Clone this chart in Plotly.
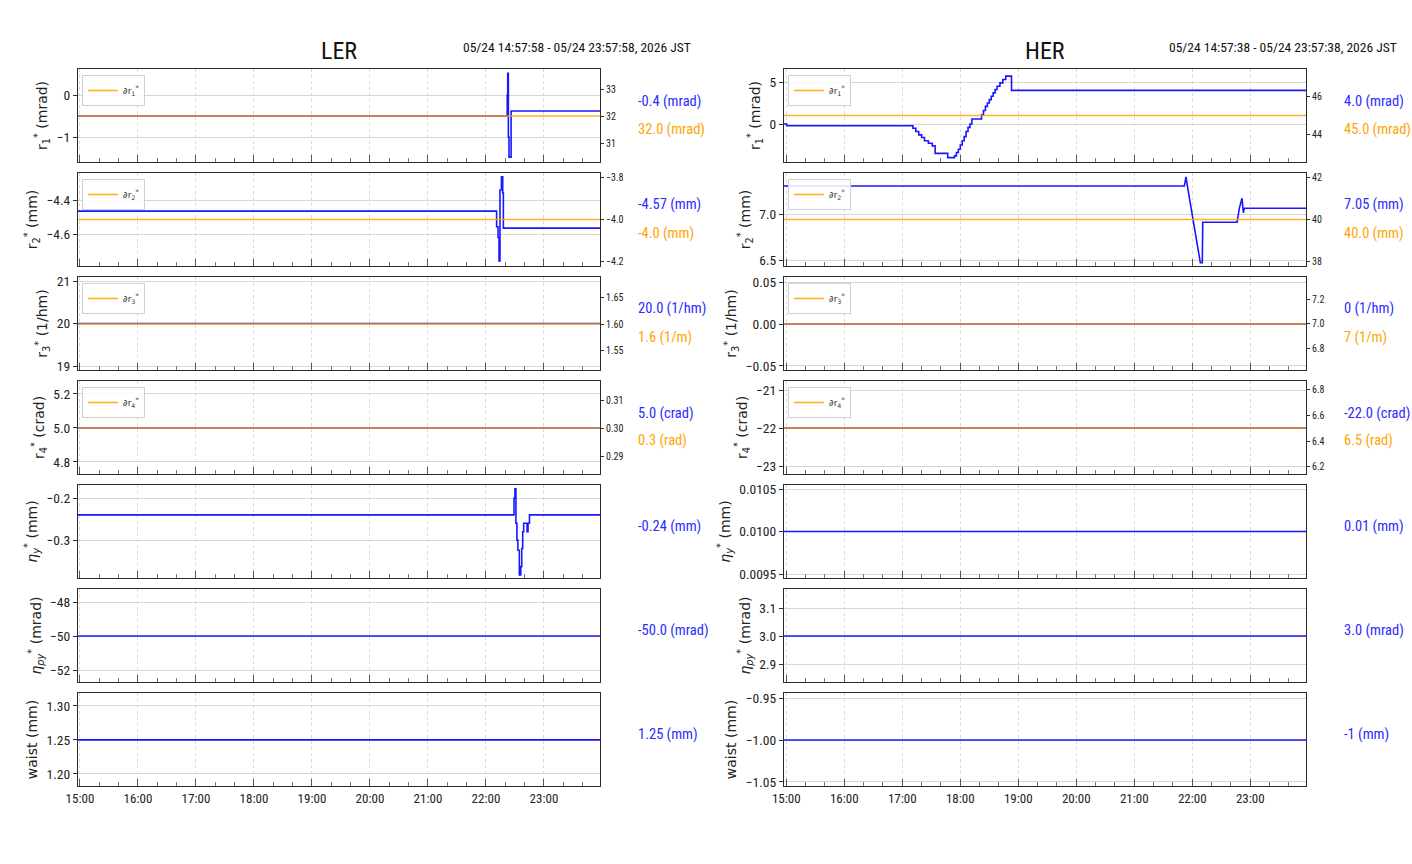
import plotly.graph_objects as go

W, H = 1412, 864
DAY = "2026-05-24 "

# ---------------- time windows ----------------
LER_START, LER_END = "14:57:58", "23:57:58"
HER_START, HER_END = "14:57:38", "23:57:38"

# ---------------- LER series ----------------
ler_r1_t = [LER_START, "22:22:00", "22:22:30", "22:23:10", "22:23:50", "22:26:00", LER_END]
ler_r1_v = [-0.5, 0.0, 0.52, -1.0, -1.48, -0.38, -0.38]
ler_dr1_t = [LER_START, LER_END]
ler_dr1_v = [32.0, 32.0]

ler_r2_t = [LER_START, "22:11:00", "22:12:30", "22:13:30", "22:14:30", "22:16:00", "22:17:20", "22:18:00", LER_END]
ler_r2_v = [-4.465, -4.557, -4.62, -4.759, -4.341, -4.263, -4.359, -4.565, -4.565]
ler_dr2_t = [LER_START, LER_END]
ler_dr2_v = [-4.0, -4.0]

ler_r3_t = [LER_START, LER_END]
ler_r3_v = [20.0, 20.0]
ler_dr3_t = [LER_START, LER_END]
ler_dr3_v = [1.6, 1.6]

ler_r4_t = [LER_START, LER_END]
ler_r4_v = [5.0, 5.0]
ler_dr4_t = [LER_START, LER_END]
ler_dr4_v = [0.3, 0.3]

ler_etay_t = [LER_START, "22:29:00", "22:30:00", "22:31:00", "22:32:00", "22:33:00", "22:34:30",
              "22:36:00", "22:37:00", "22:38:00", "22:39:00", "22:42:30", "22:43:30", "22:45:00", LER_END]
ler_etay_v = [-0.24, -0.200, -0.178, -0.26, -0.30, -0.324, -0.383,
              -0.363, -0.32, -0.28, -0.26, -0.28, -0.26, -0.24, -0.24]

ler_etapy_t = [LER_START, LER_END]
ler_etapy_v = [-50.0, -50.0]

ler_waist_t = [LER_START, LER_END]
ler_waist_v = [1.25, 1.25]

# ---------------- HER series ----------------
her_r1_t = [HER_START, "15:00:30", "17:08:00", "17:11:00", "17:14:00", "17:17:00", "17:20:00", "17:23:00",
            "17:27:00", "17:31:00", "17:34:00", "17:47:00", "17:52:30", "17:54:00", "17:56:00",
            "17:58:00", "18:00:00", "18:02:00", "18:04:00", "18:06:00", "18:08:00", "18:10:00",
            "18:12:00", "18:20:30", "18:22:00", "18:24:00", "18:26:00", "18:28:00", "18:30:00",
            "18:32:00", "18:34:00", "18:36:00", "18:38:00", "18:41:00", "18:44:00", "18:47:00",
            "18:53:00", HER_END]
her_r1_v = [0.0, -0.2, -0.2, -0.5, -0.9, -1.3, -1.6, -2.0,
            -2.3, -2.6, -3.5, -4.0, -4.0, -3.8, -3.4,
            -3.0, -2.5, -2.0, -1.5, -0.9, -0.4, 0.0,
            0.6, 0.6, 1.1, 1.6, 2.1, 2.5, 2.9,
            3.3, 3.7, 4.1, 4.5, 4.9, 5.3, 5.7,
            4.0, 4.0]
her_dr1_t = [HER_START, HER_END]
her_dr1_v = [45.0, 45.0]

her_r2_t = [HER_START, "21:51:45", "21:53:30", "21:55:00", "22:08:20", "22:10:20", "22:10:50",
            "22:46:20", "22:48:40", "22:51:25", "22:52:50", "22:53:50", HER_END]
her_r2_v = [7.304, 7.304, 7.405, 7.30, 6.47, 6.47, 6.91,
            6.91, 7.062, 7.171, 7.014, 7.062, 7.062]
her_dr2_t = [HER_START, HER_END]
her_dr2_v = [40.0, 40.0]

her_r3_t = [HER_START, HER_END]
her_r3_v = [0.0, 0.0]
her_dr3_t = [HER_START, HER_END]
her_dr3_v = [7.0, 7.0]

her_r4_t = [HER_START, HER_END]
her_r4_v = [-22.0, -22.0]
her_dr4_t = [HER_START, HER_END]
her_dr4_v = [6.5, 6.5]

her_etay_t = [HER_START, HER_END]
her_etay_v = [0.01, 0.01]

her_etapy_t = [HER_START, HER_END]
her_etapy_v = [3.0, 3.0]

her_waist_t = [HER_START, HER_END]
her_waist_v = [-1.0, -1.0]

# ---------------- labels / ticks ----------------
row_titles = ["r<sub>1</sub><sup>*</sup> (mrad)", "r<sub>2</sub><sup>*</sup> (mm)",
              "r<sub>3</sub><sup>*</sup> (1/hm)", "r<sub>4</sub><sup>*</sup> (crad)",
              "<i>η</i><sub><i>y</i></sub><sup>*</sup> (mm)",
              "<i>η</i><sub><i>py</i></sub><sup>*</sup> (mrad)", "waist (mm)"]
legend_names = ["∂r<sub>1</sub><sup>*</sup>", "∂r<sub>2</sub><sup>*</sup>",
                "∂r<sub>3</sub><sup>*</sup>", "∂r<sub>4</sub><sup>*</sup>"]

ler_blue_text = ["-0.4 (mrad)", "-4.57 (mm)", "20.0 (1/hm)", "5.0 (crad)", "-0.24 (mm)", "-50.0 (mrad)", "1.25 (mm)"]
ler_orange_text = ["32.0 (mrad)", "-4.0 (mm)", "1.6 (1/m)", "0.3 (rad)"]
her_blue_text = ["4.0 (mrad)", "7.05 (mm)", "0 (1/hm)", "-22.0 (crad)", "0.01 (mm)", "3.0 (mrad)", "-1 (mm)"]
her_orange_text = ["45.0 (mrad)", "40.0 (mm)", "7 (1/m)", "6.5 (rad)"]

ler_left_ticks = [[0, -1], [-4.4, -4.6], [19, 20, 21], [4.8, 5.0, 5.2], [-0.2, -0.3], [-48, -50, -52], [1.20, 1.25, 1.30]]
ler_left_text = [["0", "−1"], ["−4.4", "−4.6"], ["19", "20", "21"], ["4.8", "5.0", "5.2"], ["−0.2", "−0.3"],
                 ["−48", "−50", "−52"], ["1.20", "1.25", "1.30"]]
ler_left_range = [[-1.595, 0.62], [-4.788, -4.241], [18.906, 21.094], [4.729, 5.276], [-0.390, -0.169],
                  [-52.706, -47.235], [1.182, 1.319]]
ler_right_ticks = [[31, 32, 33], [-4.2, -4.0, -3.8], [1.55, 1.60, 1.65], [0.29, 0.30, 0.31]]
ler_right_text = [["31", "32", "33"], ["−4.2", "−4.0", "−3.8"], ["1.55", "1.60", "1.65"], ["0.29", "0.30", "0.31"]]
ler_right_range = [[30.30, 33.74], [-4.219, -3.781], [1.514, 1.688], [0.2836, 0.3168]]

her_left_ticks = [[0, 5], [6.5, 7.0], [-0.05, 0.0, 0.05], [-23, -22, -21], [0.0095, 0.0100, 0.0105],
                  [2.9, 3.0, 3.1], [-1.05, -1.00, -0.95]]
her_left_text = [["0", "5"], ["6.5", "7.0"], ["−0.05", "0.00", "0.05"], ["−23", "−22", "−21"],
                 ["0.0095", "0.0100", "0.0105"], ["2.9", "3.0", "3.1"], ["−1.05", "−1.00", "−0.95"]]
her_left_range = [[-4.524, 6.548], [6.435, 7.446], [-0.0548, 0.056], [-23.21, -20.763], [0.009453, 0.010547],
                  [2.836, 3.168], [-1.0548, -0.944]]
her_right_ticks = [[44, 46], [38, 40, 42], [6.8, 7.0, 7.2], [6.2, 6.4, 6.6, 6.8]]
her_right_text = [["44", "46"], ["38", "40", "42"], ["6.8", "7.0", "7.2"], ["6.2", "6.4", "6.6", "6.8"]]
her_right_range = [[42.49, 47.51], [37.81, 42.19], [6.624, 7.384], [6.146, 6.862]]

ler_blue = [(ler_r1_t, ler_r1_v), (ler_r2_t, ler_r2_v), (ler_r3_t, ler_r3_v), (ler_r4_t, ler_r4_v),
            (ler_etay_t, ler_etay_v), (ler_etapy_t, ler_etapy_v), (ler_waist_t, ler_waist_v)]
ler_orange = [(ler_dr1_t, ler_dr1_v), (ler_dr2_t, ler_dr2_v), (ler_dr3_t, ler_dr3_v), (ler_dr4_t, ler_dr4_v)]
her_blue = [(her_r1_t, her_r1_v), (her_r2_t, her_r2_v), (her_r3_t, her_r3_v), (her_r4_t, her_r4_v),
            (her_etay_t, her_etay_v), (her_etapy_t, her_etapy_v), (her_waist_t, her_waist_v)]
her_orange = [(her_dr1_t, her_dr1_v), (her_dr2_t, her_dr2_v), (her_dr3_t, her_dr3_v), (her_dr4_t, her_dr4_v)]
her_shapes = ["hv", "linear", "hv", "hv", "hv", "hv", "hv"]

ring_names = ["LER", "HER"]
ring_ranges = [(LER_START, LER_END), (HER_START, HER_END)]
ring_dates = ["05/24 14:57:58 - 05/24 23:57:58, 2026 JST", "05/24 14:57:38 - 05/24 23:57:38, 2026 JST"]

# ---------------- styling ----------------
NARROW = "Roboto Condensed, Liberation Sans Narrow, Liberation Sans, Arial, sans-serif"
SANS = "DejaVu Sans, sans-serif"
BLUE = "#0000ff"
ORANGE = "#ffa500"
BLUE_TXT = "#2b2bff"
FRAME = "#2a2a2a"

# pixel geometry
panel_left = [78, 784]
panel_right = [600, 1306]
row_top0, row_h, row_step = 69, 93, 104
text_x = [636, 1342]

def px_x(x):
    return x / W

def px_y(y):
    return 1 - y / H

fig = go.Figure()
layout = dict(
    width=W, height=H, margin=dict(l=0, r=0, t=0, b=0, autoexpand=False),
    paper_bgcolor="white", plot_bgcolor="white", showlegend=True,
    font=dict(family=NARROW, size=12, color="#222"),
)
annotations = []

sec_idx = 15
legend_idx = 1
for s in range(2):
    blue = ler_blue if s == 0 else her_blue
    orange = ler_orange if s == 0 else her_orange
    lt, ltx, lr = (ler_left_ticks, ler_left_text, ler_left_range) if s == 0 else (her_left_ticks, her_left_text, her_left_range)
    rt, rtx, rr = (ler_right_ticks, ler_right_text, ler_right_range) if s == 0 else (her_right_ticks, her_right_text, her_right_range)
    btxt = ler_blue_text if s == 0 else her_blue_text
    otxt = ler_orange_text if s == 0 else her_orange_text
    start, end = ring_ranges[s]
    for r in range(7):
        p = s * 7 + r + 1
        top = row_top0 + r * row_step
        bot = top + row_h
        xname = "xaxis" if p == 1 else f"xaxis{p}"
        yname = "yaxis" if p == 1 else f"yaxis{p}"
        xref = "x" if p == 1 else f"x{p}"
        yref = "y" if p == 1 else f"y{p}"
        layout[xname] = dict(
            domain=[px_x(panel_left[s]), px_x(panel_right[s])], anchor=yref, type="date",
            range=[DAY + start, DAY + end], automargin=False,
            tick0=DAY + "15:00:00", dtick=3600000, tickformat="%H:%M",
            ticks="inside", ticklen=7, tickwidth=1, tickcolor="#555",
            minor=dict(ticks="inside", ticklen=3.5, dtick=1200000, tick0=DAY + "15:00:00",
                       tickcolor="#777", showgrid=False),
            showgrid=True, gridcolor="#dadada", griddash="dot", gridwidth=1,
            showline=True, linecolor=FRAME, linewidth=1.3, mirror=True,
            showticklabels=(r == 6), tickfont=dict(family=NARROW, size=13, color="#222"),
            zeroline=False,
        )
        layout[yname] = dict(
            domain=[px_y(bot), px_y(top)], anchor=xref, range=lr[r], automargin=False,
            tickvals=lt[r], ticktext=ltx[r], ticks="outside", ticklen=4, tickcolor="#333",
            showgrid=True, gridcolor="#d6d6d6", gridwidth=1,
            showline=True, linecolor=FRAME, linewidth=1.3, mirror=True, zeroline=False,
            tickfont=dict(family=NARROW, size=13.5, color="#222"),
            title=dict(text=row_titles[r], font=dict(family=SANS, size=14, color="#222"), standoff=5),
        )
        bt, bv = blue[r]
        shape = "hv" if s == 0 else her_shapes[r]
        fig.add_trace(go.Scatter(
            x=[DAY + t for t in bt], y=bv, mode="lines", xaxis=xref, yaxis=yref,
            line=dict(color=BLUE, width=1.6, shape=shape), opacity=0.9, showlegend=False,
            name=ring_names[s] + " value",
        ))
        if r < 4:
            sref = f"y{sec_idx}"
            layout[f"yaxis{sec_idx}"] = dict(
                overlaying=yref, side="right", anchor=xref, range=rr[r], automargin=False,
                tickvals=rt[r], ticktext=rtx[r], ticks="outside", ticklen=3, tickcolor="#333",
                showgrid=False, showline=False, zeroline=False,
                tickfont=dict(family=NARROW, size=10, color="#222"),
            )
            ot, ov = orange[r]
            lname = "legend" if legend_idx == 1 else f"legend{legend_idx}"
            fig.add_trace(go.Scatter(
                x=[DAY + t for t in ot], y=ov, mode="lines", xaxis=xref, yaxis=sref,
                line=dict(color=ORANGE, width=1.6), opacity=0.85, name=legend_names[r],
                showlegend=True, legend=lname,
            ))
            layout[lname] = dict(
                x=px_x(panel_left[s] + 4), y=px_y(top + 6), xanchor="left", yanchor="top",
                xref="paper", yref="paper", bgcolor="rgba(255,255,255,0.85)",
                bordercolor="#d0d0d0", borderwidth=1, itemwidth=30,
                font=dict(family=SANS, size=9, color="#333"), tracegroupgap=0,
            )
            sec_idx += 1
            legend_idx += 1
            annotations.append(dict(
                x=px_x(text_x[s]), y=px_y(top + 32), xref="paper", yref="paper",
                xanchor="left", yanchor="middle", showarrow=False, text=btxt[r],
                font=dict(family=NARROW, size=14.5, color=BLUE_TXT)))
            annotations.append(dict(
                x=px_x(text_x[s]), y=px_y(top + 60), xref="paper", yref="paper",
                xanchor="left", yanchor="middle", showarrow=False, text=otxt[r],
                font=dict(family=NARROW, size=14.5, color=ORANGE)))
        else:
            annotations.append(dict(
                x=px_x(text_x[s]), y=px_y(top + 41), xref="paper", yref="paper",
                xanchor="left", yanchor="middle", showarrow=False, text=btxt[r],
                font=dict(family=NARROW, size=14.5, color=BLUE_TXT)))

    # ring title and time window
    annotations.append(dict(
        x=px_x((panel_left[s] + panel_right[s]) / 2), y=px_y(51), xref="paper", yref="paper",
        xanchor="center", yanchor="middle", showarrow=False, text=ring_names[s],
        font=dict(family=NARROW, size=24, color="#111")))
    annotations.append(dict(
        x=px_x(panel_right[s] + 93), y=px_y(47), xref="paper", yref="paper",
        xanchor="right", yanchor="middle", showarrow=False, text=ring_dates[s],
        font=dict(family=NARROW, size=13.5, color="#111")))

layout["annotations"] = annotations
fig.update_layout(**layout)
fig.write_html("out.html")
